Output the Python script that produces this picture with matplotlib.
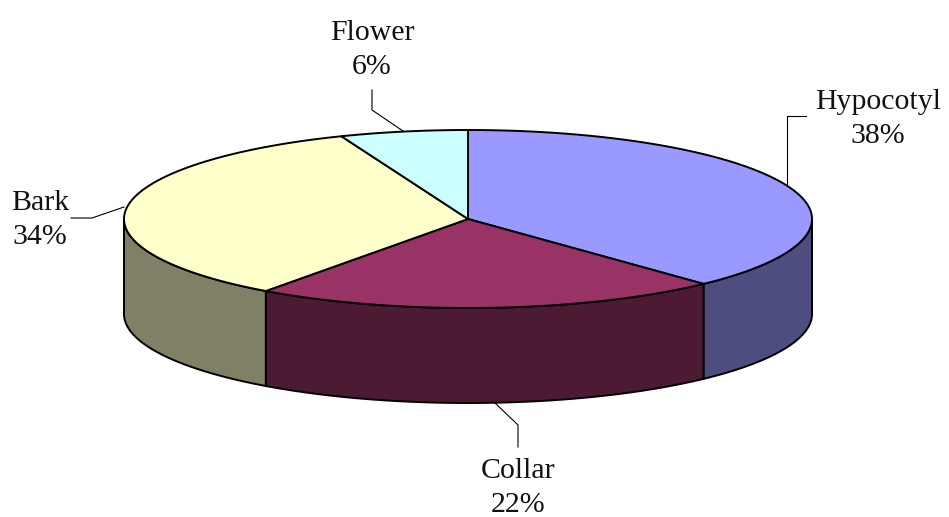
import numpy as np
import matplotlib
matplotlib.use('Agg')
import matplotlib.pyplot as plt
from matplotlib.patches import Polygon

labels = ['Hypocotyl', 'Collar', 'Bark', 'Flower']
values = [38, 22, 34, 6]
top_colors = ['#9999FF', '#993366', '#FFFFCC', '#CCFFFF']
side_colors = ['#4D4D80', '#4D1A33', '#808066', '#668080']
label_text = ['Hypocotyl\n38%', 'Collar\n22%', 'Bark\n34%', 'Flower\n6%']
label_pos = [(878, 119), (518, 488), (40, 220), (372, 50)]
leaders = [[(806, 116), (787, 116), (787, 184)],
           [(518, 447), (518, 425), (495, 403)],
           [(71, 218), (92, 218), (124, 207)],
           [(372, 90), (372, 110), (403, 131)]]

cx, cy = 468, 219
rx, ry = 344, 89
depth = 95

plt.rcParams['font.family'] = ['Liberation Serif', 'DejaVu Serif']

fig = plt.figure(figsize=(9.49, 5.17), dpi=100)
ax = fig.add_axes([0, 0, 1, 1])
ax.set_xlim(0, 949)
ax.set_ylim(517, 0)
ax.axis('off')


def rim(a1, a2, n=200):
    t = np.radians(np.linspace(a1, a2, n))
    return cx + rx * np.cos(t), cy - ry * np.sin(t)


start = 90.0
angles = []
for v in values:
    end = start - v * 3.6
    angles.append((start, end))
    start = end

# sides first, only the front half shows
for (a1, a2), c in zip(angles, side_colors):
    lo = max(a2, -180)
    hi = min(a1, 0)
    if lo >= hi:
        continue
    x, y = rim(hi, lo)
    pts = np.column_stack([np.r_[x, x[::-1]], np.r_[y, y[::-1] + depth]])
    ax.add_patch(Polygon(pts, closed=True, fc=c, ec='black', lw=1.4, zorder=2))

for (a1, a2), c in zip(angles, top_colors):
    x, y = rim(a1, a2)
    pts = np.column_stack([np.r_[cx, x], np.r_[cy, y]])
    ax.add_patch(Polygon(pts, closed=True, fc=c, ec='black', lw=1.4, zorder=3))

for line in leaders:
    xs, ys = zip(*line)
    ax.plot(xs, ys, color='black', lw=0.8, zorder=4)

for t, (x, y) in zip(label_text, label_pos):
    ax.text(x, y, t, ha='center', va='center', fontsize=21.5, linespacing=1.42, color='#111111')

fig.savefig('out.png', dpi=100)
